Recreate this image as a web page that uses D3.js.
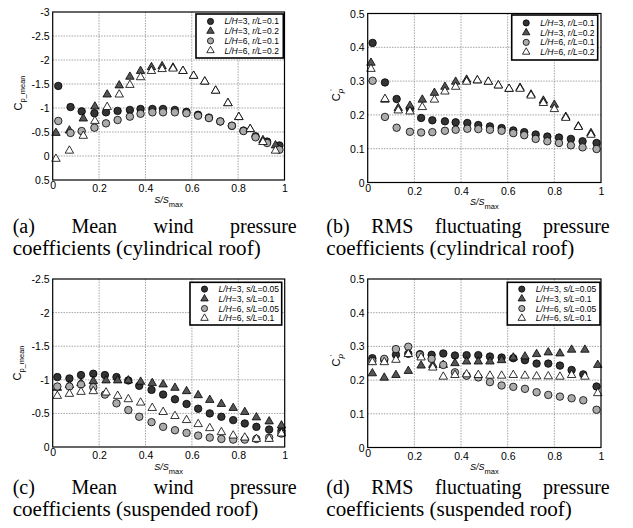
<!DOCTYPE html>
<html><head><meta charset="utf-8">
<script src="https://cdn.jsdelivr.net/npm/d3@7"></script>
<style>body{margin:0;background:#fff} svg{display:block}</style>
</head><body>
<svg id="chart" width="633" height="528"></svg>
<script>
// ---------------- DATA ----------------
const xTicks = [0, 0.2, 0.4, 0.6, 0.8, 1];
const yTicksA = [-3, -2.5, -2, -1.5, -1, -0.5, 0, 0.5];
const yTicksC = [-2.5, -2, -1.5, -1, -0.5, 0];
const yTicksRms = [0, 0.1, 0.2, 0.3, 0.4, 0.5];

const legendCyl = ["L/H=3, r/L=0.1", "L/H=3, r/L=0.2", "L/H=6, r/L=0.1", "L/H=6, r/L=0.2"];
const legendSus = ["L/H=3, s/L=0.05", "L/H=3, s/L=0.1", "L/H=6, s/L=0.05", "L/H=6, s/L=0.1"];

// (a) mean, cylindrical roof
const xCircA = [0.024,0.077,0.125,0.18,0.23,0.28,0.333,0.379,0.43,0.476,0.527,0.577,0.627,0.674,0.723,0.773,0.823,0.875,0.925,0.978];
const xTriA  = [0.014,0.072,0.132,0.182,0.235,0.287,0.333,0.379,0.426,0.472,0.519,0.562,0.608,0.656,0.703,0.756,0.803,0.852,0.907,0.961];
const a1 = [-1.46,-1.02,-0.93,-0.89,-0.91,-0.94,-0.96,-0.98,-0.98,-0.98,-0.96,-0.92,-0.86,-0.8,-0.72,-0.63,-0.53,-0.41,-0.3,-0.22];
const a2 = [-0.48,-0.53,-0.78,-1.03,-1.28,-1.47,-1.65,-1.77,-1.85,-1.87,-1.84,-1.77,-1.67,-1.55,-1.36,-1.1,-0.81,-0.56,-0.33,-0.22];
const a3 = [-0.73,-0.48,-0.52,-0.59,-0.68,-0.75,-0.82,-0.88,-0.91,-0.91,-0.91,-0.89,-0.84,-0.79,-0.72,-0.63,-0.52,-0.39,-0.27,-0.13];
const a4 = [0.06,-0.11,-0.42,-0.73,-1.02,-1.28,-1.48,-1.64,-1.77,-1.81,-1.82,-1.77,-1.67,-1.55,-1.36,-1.1,-0.81,-0.56,-0.29,-0.11];

// (b) RMS, cylindrical roof
const xCircB = [0.021,0.074,0.124,0.181,0.229,0.277,0.331,0.377,0.427,0.474,0.524,0.574,0.624,0.671,0.72,0.77,0.82,0.871,0.921,0.981];
const xTriB  = [0.014,0.074,0.131,0.181,0.234,0.286,0.331,0.377,0.424,0.47,0.517,0.56,0.606,0.653,0.7,0.753,0.8,0.849,0.903,0.957];
const b1 = [0.413,0.296,0.247,0.217,0.191,0.184,0.181,0.178,0.176,0.170,0.166,0.161,0.154,0.149,0.142,0.136,0.133,0.129,0.122,0.117];
const b2 = [0.354,0.245,0.220,0.227,0.245,0.265,0.283,0.298,0.304,0.302,0.298,0.287,0.277,0.280,0.260,0.242,0.230,0.194,0.166,0.146];
const b3 = [0.301,0.194,0.162,0.150,0.148,0.149,0.153,0.156,0.159,0.158,0.156,0.153,0.146,0.140,0.129,0.122,0.117,0.110,0.104,0.099];
const b4 = [0.336,0.247,0.213,0.210,0.223,0.245,0.269,0.283,0.298,0.302,0.298,0.287,0.277,0.277,0.257,0.235,0.217,0.191,0.164,0.141];

// (c) mean, suspended roof
const xCircC = [0.02,0.072,0.122,0.175,0.225,0.275,0.326,0.373,0.426,0.476,0.527,0.577,0.627,0.677,0.727,0.778,0.828,0.878,0.933,0.986];
const xTriC  = [0.02,0.072,0.122,0.175,0.23,0.28,0.326,0.379,0.429,0.476,0.527,0.577,0.627,0.677,0.727,0.778,0.828,0.878,0.933,0.986];
const c1 = [-1.04,-1.02,-1.07,-1.09,-1.07,-1.04,-0.99,-0.91,-0.85,-0.78,-0.71,-0.64,-0.57,-0.50,-0.45,-0.40,-0.35,-0.30,-0.26,-0.24];
const c2 = [-0.88,-0.92,-0.95,-0.98,-0.99,-0.99,-0.99,-0.97,-0.95,-0.93,-0.88,-0.83,-0.77,-0.70,-0.64,-0.58,-0.52,-0.44,-0.38,-0.32];
const c3 = [-0.90,-0.90,-0.93,-0.89,-0.78,-0.65,-0.55,-0.45,-0.37,-0.30,-0.25,-0.21,-0.17,-0.14,-0.12,-0.11,-0.11,-0.12,-0.14,-0.20];
const c4 = [-0.76,-0.79,-0.82,-0.83,-0.81,-0.76,-0.71,-0.66,-0.58,-0.52,-0.46,-0.40,-0.34,-0.28,-0.22,-0.17,-0.14,-0.12,-0.12,-0.20];

// (d) RMS, suspended roof
const xCircD = [0.02,0.071,0.121,0.174,0.224,0.274,0.324,0.374,0.424,0.474,0.524,0.574,0.624,0.674,0.724,0.774,0.824,0.874,0.924,0.981];
const xTriD  = [0.02,0.071,0.121,0.174,0.229,0.279,0.324,0.374,0.424,0.474,0.524,0.574,0.624,0.674,0.724,0.774,0.824,0.874,0.931,0.986];
const d1 = [0.265,0.260,0.275,0.278,0.277,0.275,0.279,0.273,0.274,0.274,0.270,0.267,0.265,0.259,0.249,0.249,0.243,0.230,0.217,0.181];
const d2 = [0.220,0.207,0.215,0.227,0.243,0.245,0.245,0.250,0.255,0.255,0.255,0.259,0.267,0.270,0.277,0.282,0.279,0.290,0.290,0.245];
const d3v = [0.257,0.263,0.292,0.299,0.275,0.263,0.245,0.223,0.213,0.208,0.194,0.184,0.180,0.174,0.164,0.156,0.151,0.146,0.140,0.112];
const d4 = [0.253,0.253,0.260,0.277,0.267,0.237,0.210,0.215,0.217,0.215,0.213,0.213,0.215,0.213,0.211,0.211,0.210,0.215,0.210,0.161];

const captionA = [["(a)","Mean","wind","pressure"], "coefficients (cylindrical roof)"];
const captionB = [["(b)","RMS","fluctuating","pressure"], "coefficients (cylindrical roof)"];
const captionC = [["(c)","Mean","wind","pressure"], "coefficients (suspended roof)"];
const captionD = [["(d)","RMS","fluctuating","pressure"], "coefficients (suspended roof)"];

// ---------------- STYLE / LAYOUT ----------------
const SANS = "'Liberation Sans', Arial, sans-serif";
const SERIF = "'Liberation Serif', 'Times New Roman', serif";
const seriesStyle = [
  {shape: "circle", fill: "#333333"},
  {shape: "tri", fill: "#555555"},
  {shape: "circle", fill: "#ababab"},
  {shape: "tri", fill: "#ffffff"}
];
const svg = d3.select("#chart");

const panels = [
  {left: 52.7, right: 284.5, top: 12, bottom: 180, yDomain: [-3, 0.5], yTicks: yTicksA, type: "mean",
   xs: [xCircA, xTriA, xCircA, xTriA], ys: [a1, a2, a3, a4], legend: legendCyl,
   leg: {x: 196, y: 14, w: 87.3, h: 44}, labelOff: -30.5, labelShift: -3,
   cap: captionA, capL: 12.7, capR: 296.7, capW2: 248, capY: 233.3},
  {left: 367.7, right: 601, top: 13.5, bottom: 182.5, yDomain: [0.5, 0], yTicks: yTicksRms, type: "rms",
   xs: [xCircB, xTriB, xCircB, xTriB], ys: [b1, b2, b3, b4], legend: legendCyl,
   leg: {x: 511.7, y: 15, w: 86, h: 45}, labelOff: -27.7, labelShift: -3,
   cap: captionB, capL: 326.3, capR: 609.7, capW2: 248, capY: 233.3},
  {left: 52.7, right: 284.7, top: 279, bottom: 447, yDomain: [-2.5, 0], yTicks: yTicksC, type: "mean",
   xs: [xCircC, xTriC, xCircC, xTriC], ys: [c1, c2, c3, c4], legend: legendSus,
   leg: {x: 190, y: 282.3, w: 91.7, h: 42.7}, labelOff: -31.5, labelShift: 0,
   cap: captionC, capL: 12.7, capR: 296.7, capW2: 245.6, capY: 494},
  {left: 367.7, right: 601, top: 279, bottom: 447.5, yDomain: [0.5, 0], yTicks: yTicksRms, type: "rms",
   xs: [xCircD, xTriD, xCircD, xTriD], ys: [d1, d2, d3v, d4], legend: legendSus,
   leg: {x: 507.3, y: 282.3, w: 92.7, h: 42.7}, labelOff: -27.7, labelShift: -3,
   cap: captionD, capL: 326.3, capR: 609.7, capW2: 245.6, capY: 494}
];

function symbolPath(shape, big) {
  if (shape === "circle") return d3.symbol().type(d3.symbolCircle).size(big ? 44 : 30)();
  return d3.symbol().type(d3.symbolTriangle).size(big ? 31 : 24)();
}

function richLabel(textSel, str) {
  const parts = str.split(/(L\/H|[rs]\/L)/).filter(p => p.length);
  parts.forEach(p => {
    textSel.append("tspan").attr("font-style", /^(L\/H|[rs]\/L)$/.test(p) ? "italic" : "normal").text(p);
  });
}

panels.forEach(cfg => {
  const x = d3.scaleLinear().domain([0, 1]).range([cfg.left, cfg.right]);
  const y = d3.scaleLinear().domain(cfg.yDomain).range([cfg.top, cfg.bottom]);
  const g = svg.append("g");

  // grid
  g.selectAll(".gx").data(xTicks.slice(1, -1)).join("line")
    .attr("x1", d => x(d)).attr("x2", d => x(d)).attr("y1", cfg.top).attr("y2", cfg.bottom)
    .attr("stroke", "#8c8c8c").attr("stroke-width", 0.8).attr("stroke-dasharray", "1.5,1.2");
  g.selectAll(".gy").data(cfg.yTicks.slice(1, -1)).join("line")
    .attr("y1", d => y(d)).attr("y2", d => y(d)).attr("x1", cfg.left).attr("x2", cfg.right)
    .attr("stroke", "#8c8c8c").attr("stroke-width", 0.8).attr("stroke-dasharray", "1.5,1.2");

  // axes
  const ax = g.append("g").attr("transform", `translate(0,${cfg.bottom})`)
    .call(d3.axisBottom(x).tickValues(xTicks).tickSize(0).tickFormat(d => String(d)));
  ax.select(".domain").remove();
  ax.selectAll("text").attr("y", d => d === 0 ? 9 : 12).attr("dy", 0)
    .attr("font-family", SANS).attr("font-size", 10.5).attr("fill", "#000");

  const ay = g.append("g").attr("transform", `translate(${cfg.left},0)`)
    .call(d3.axisLeft(y).tickValues(cfg.yTicks).tickSize(0).tickPadding(3).tickFormat(d => String(d)));
  ay.select(".domain").remove();
  ay.selectAll("text").attr("font-family", SANS).attr("font-size", 10.5).attr("fill", "#000").attr("dy", "0.34em");

  // markers
  cfg.ys.forEach((vals, si) => {
    const st = seriesStyle[si];
    const xs = cfg.xs[si];
    g.append("g").selectAll("path").data(vals.map((v, i) => [xs[i], v])).join("path")
      .attr("d", symbolPath(st.shape, true))
      .attr("transform", d => `translate(${x(d[0])},${y(d[1])})`)
      .attr("fill", st.fill).attr("stroke", "#000").attr("stroke-width", 0.8);
  });

  // frame
  g.append("rect").attr("x", cfg.left).attr("y", cfg.top)
    .attr("width", cfg.right - cfg.left).attr("height", cfg.bottom - cfg.top)
    .attr("fill", "none").attr("stroke", "#000").attr("stroke-width", 1.2);

  // legend
  const L = cfg.leg;
  const lg = g.append("g");
  lg.append("rect").attr("x", L.x).attr("y", L.y).attr("width", L.w).attr("height", L.h)
    .attr("fill", "#fff").attr("stroke", "#000").attr("stroke-width", 1.6);
  const cy = L.y + L.h / 2;
  cfg.legend.forEach((lab, i) => {
    const ry = cy + (i - 1.5) * 9.7;
    const st = seriesStyle[i];
    lg.append("path").attr("d", symbolPath(st.shape, false))
      .attr("transform", `translate(${L.x + 14.5},${ry})`)
      .attr("fill", st.fill).attr("stroke", "#000").attr("stroke-width", 0.8);
    const t = lg.append("text").attr("x", L.x + 28.5).attr("y", ry + 3)
      .attr("font-family", SANS).attr("font-size", 8.5).attr("fill", "#000");
    richLabel(t, lab);
  });

  // x-axis title
  const xt = g.append("text").attr("x", (cfg.left + cfg.right) / 2).attr("y", cfg.bottom + 22.5)
    .attr("text-anchor", "middle").attr("font-family", SANS).attr("fill", "#000");
  xt.append("tspan").attr("font-size", 9).attr("font-style", "italic").text("S/S");
  xt.append("tspan").attr("font-size", 7.5).attr("dy", 4).text("max");

  // y-axis title
  const yt = g.append("text")
    .attr("transform", `translate(${cfg.left + cfg.labelOff},${(cfg.top + cfg.bottom) / 2 + cfg.labelShift}) rotate(-90)`)
    .attr("text-anchor", "middle").attr("font-family", SANS).attr("fill", "#000");
  yt.append("tspan").attr("font-size", 11).text("C");
  if (cfg.type === "mean") {
    yt.append("tspan").attr("font-size", 7.5).attr("dy", 3).text("p_mean");
  } else {
    yt.append("tspan").attr("font-size", 8).attr("dy", 3).attr("font-style", "italic").text("p");
    yt.append("tspan").attr("font-size", 8).attr("dx", -2).attr("dy", -8).text("'");
  }

  // caption
  const words = cfg.cap[0];
  const wEls = words.map(w => svg.append("text").attr("y", cfg.capY)
    .attr("font-family", SERIF).attr("font-size", 20).attr("fill", "#000").text(w));
  const widths = wEls.map(e => e.node().getComputedTextLength());
  const gap = (cfg.capR - cfg.capL - d3.sum(widths)) / (words.length - 1);
  let cx = cfg.capL;
  wEls.forEach((e, i) => { e.attr("x", cx); cx += widths[i] + gap; });
  svg.append("text").attr("x", cfg.capL).attr("y", cfg.capY + 21.5)
    .attr("font-family", SERIF).attr("font-size", 20).attr("fill", "#000")
    .attr("textLength", cfg.capW2).attr("lengthAdjust", "spacingAndGlyphs")
    .text(cfg.cap[1]);
});
</script>
</body></html>
